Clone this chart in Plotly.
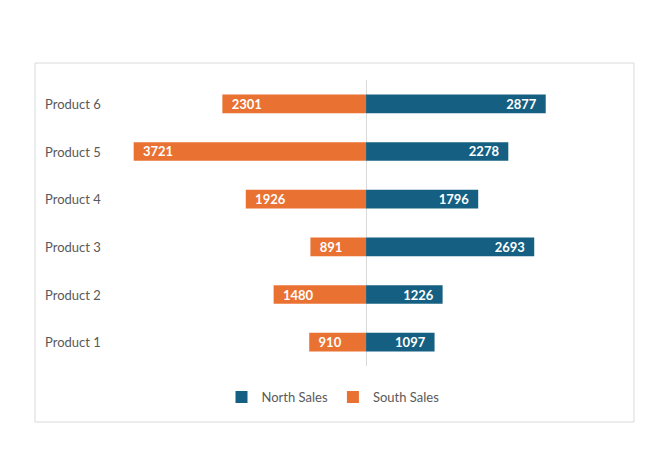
import plotly.graph_objects as go

products = ["Product 1", "Product 2", "Product 3", "Product 4", "Product 5", "Product 6"]
north_sales = [1097, 1226, 2693, 1796, 2278, 2877]
south_sales = [910, 1480, 891, 1926, 3721, 2301]

NORTH = "#156082"
SOUTH = "#E97132"
FONT = "Lato, 'Open Sans', sans-serif"

OFF = 8  # page body margin
W, H = 671, 452
ML, MT = 115 - OFF, 80 - OFF
MR = W - (584 - OFF)
MB = H - (366 - OFF)
pw, ph = W - ML - MR, H - MT - MB

def px_x(x):
    return (x - OFF - ML) / pw

def px_y(y):
    return (H - MB - (y - OFF)) / ph

NB = "\u00a0\u00a0"

fig = go.Figure()
fig.add_trace(go.Bar(
    name="North Sales", y=products, x=north_sales, orientation="h",
    marker=dict(color=NORTH, line=dict(width=0)),
    text=[str(v) for v in north_sales], texttemplate="%{text}" + NB,
    textposition="inside", insidetextanchor="end", constraintext="none",
    textfont=dict(color="white", size=13, family=FONT, weight="bold"),
    hoverinfo="skip",
))
fig.add_trace(go.Bar(
    name="South Sales", y=products, x=[-v for v in south_sales], orientation="h",
    marker=dict(color=SOUTH, line=dict(width=0)),
    text=[str(v) for v in south_sales], texttemplate=NB + "%{text}",
    textposition="inside", insidetextanchor="end", constraintext="none",
    textfont=dict(color="white", size=13, family=FONT, weight="bold"),
    hoverinfo="skip",
))

annotations = []
for p in products:
    annotations.append(dict(
        x=px_x(45), xref="paper", y=p, yref="y", text=p, showarrow=False,
        xanchor="left", yanchor="middle", xshift=-2,
        font=dict(size=13, color="#595959", family=FONT),
    ))

fig.update_layout(
    width=W, height=H,
    margin=dict(l=ML, r=MR, t=MT, b=MB),
    paper_bgcolor="white", plot_bgcolor="white",
    barmode="relative", bargap=0.61,
    font=dict(family=FONT, color="#595959"),
    xaxis=dict(range=[-4020, 3490], showgrid=False, showticklabels=False,
               zeroline=True, zerolinecolor="#D9D9D9", zerolinewidth=1, fixedrange=True),
    yaxis=dict(showticklabels=False, showgrid=False, zeroline=False,
               categoryorder="array", categoryarray=products),
    legend=dict(orientation="h", x=px_x(333), xanchor="center", y=px_y(397), yanchor="middle",
                font=dict(size=13, color="#595959", family=FONT), traceorder="normal",
                itemwidth=30),
    annotations=annotations,
    shapes=[dict(type="rect", xref="paper", yref="paper",
                 x0=px_x(35), x1=px_x(634), y0=px_y(422), y1=px_y(63),
                 line=dict(color="#D9D9D9", width=1), fillcolor="rgba(0,0,0,0)", layer="below")],
    showlegend=True,
)

fig.write_html("out.html")
